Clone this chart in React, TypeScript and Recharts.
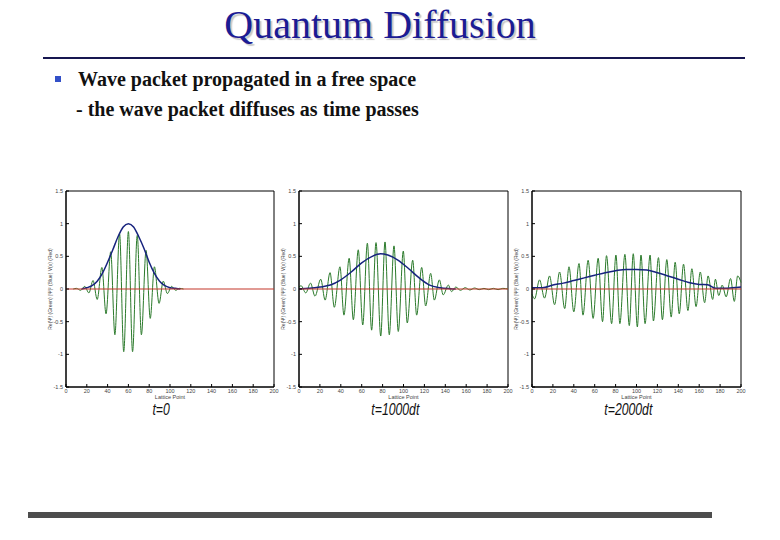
import React from 'react'
import { LineChart, Line, XAxis, YAxis, Label, ReferenceArea } from 'recharts'

const latticeTicks = [0, 20, 40, 60, 80, 100, 120, 140, 160, 180, 200]
const ampTicks = [-1.5, -1, -0.5, 0, 0.5, 1, 1.5]
const timeLabels = ['t=0', 't=1000dt', 't=2000dt']

// t = 0 : Re(psi) extremes (green) and |psi|^2 (blue)
const reX0 = [7, 10, 14, 18, 22, 26, 30, 34.5, 38.5, 43, 47, 51.5, 55.5, 60, 64, 68.5, 72.5, 77, 81, 85, 89.5, 93.5, 97.5, 101.5, 105.5, 109, 113]
const reY0 = [0, 0.01, -0.02, 0.04, -0.06, 0.13, -0.16, 0.33, -0.38, 0.57, -0.7, 0.85, -0.96, 0.88, -0.96, 0.82, -0.7, 0.59, -0.45, 0.34, -0.22, 0.12, -0.07, 0.04, -0.02, 0.01, 0]
const probX0 = [15, 20, 25, 30, 35, 40, 45, 50, 55, 60, 65, 70, 75, 80, 85, 90, 95, 100, 105, 110]
const probY0 = [0, 0.02, 0.05, 0.12, 0.24, 0.41, 0.6, 0.8, 0.95, 1.0, 0.95, 0.8, 0.62, 0.41, 0.24, 0.12, 0.05, 0.02, 0.01, 0]

// t = 1000 dt
const reX1 = [0, 2, 6.5, 11, 15.3, 20.8, 25, 29.7, 33.8, 39.2, 43, 48, 52, 56.7, 61, 65.4, 69.5, 73.7, 78.2, 82.3, 86.4, 90.9, 95, 99.8, 103.6, 108.8, 112.6, 117.4, 121.2, 126, 129.5, 134.3, 138, 142.9, 146, 150, 154.5, 159, 163.5, 168, 172.5, 177, 181.5, 186, 190.5, 195, 200]
const reY1 = [0.03, 0.05, -0.06, 0.09, -0.11, 0.15, -0.17, 0.25, -0.28, 0.34, -0.4, 0.47, -0.47, 0.6, -0.55, 0.7, -0.63, 0.71, -0.72, 0.72, -0.7, 0.66, -0.65, 0.58, -0.52, 0.44, -0.4, 0.33, -0.26, 0.24, -0.17, 0.14, -0.09, 0.06, -0.04, 0.03, -0.02, 0.02, -0.015, 0.015, -0.01, 0.01, -0.01, 0.01, -0.01, 0.01, 0]
const probX1 = [0, 10, 20, 30, 40, 50, 60, 70, 78, 85, 95, 105, 115, 125, 135, 145, 150]
const probY1 = [0, 0.01, 0.03, 0.06, 0.14, 0.26, 0.4, 0.5, 0.54, 0.52, 0.44, 0.31, 0.17, 0.06, 0.02, 0.005, 0]

// t = 2000 dt
const reX2 = [0, 2.5, 7.2, 12, 16.8, 21.6, 26.4, 31.3, 35.4, 40, 45, 48.8, 53.7, 58.5, 63.3, 67.5, 71.3, 76.2, 80.3, 84.1, 88.9, 93.1, 96.9, 100.8, 104.3, 108.2, 113, 116.2, 121, 124.8, 129, 133.2, 137, 140.9, 145, 149.2, 153, 157, 161, 165.2, 168.5, 172.9, 175.5, 178.7, 182, 185.8, 190, 193.6, 196.8, 200]
const reY2 = [-0.08, -0.15, 0.14, -0.14, 0.2, -0.24, 0.26, -0.3, 0.34, -0.35, 0.39, -0.4, 0.44, -0.45, 0.47, -0.5, 0.51, -0.53, 0.52, -0.53, 0.53, -0.56, 0.54, -0.58, 0.52, -0.53, 0.52, -0.49, 0.48, -0.47, 0.45, -0.43, 0.41, -0.38, 0.38, -0.33, 0.31, -0.27, 0.26, -0.21, 0.2, -0.16, 0.15, -0.1, 0.06, -0.12, 0.16, -0.19, 0.2, 0.1]
const probX2 = [0, 10, 20, 30, 40, 50, 60, 70, 80, 90, 100, 110, 120, 130, 140, 150, 160, 168, 176, 185, 192, 200]
const probY2 = [0.02, 0.02, 0.06, 0.09, 0.13, 0.17, 0.21, 0.25, 0.28, 0.3, 0.3, 0.29, 0.25, 0.2, 0.15, 0.1, 0.07, 0.065, 0.01, 0.01, 0.02, 0.03]

// V(x) = 0 everywhere (free space)
const potX = [0, 200]
const potY = [0, 0]

const zip = (xs: number[], ys: number[]) => xs.map((x, i) => ({ x, y: ys[i] }))

const GREEN = '#2b7a2b'
const BLUE = '#17237e'
const RED = '#c4372b'

const Y_W = 32
const PLOT_TOP = 191
const PLOT_H = 196

function Panel({ axisLeft, plotW, re, prob, time, labelX }: any) {
  return (
    <>
      <div style={{ position: 'absolute', left: axisLeft - Y_W, top: PLOT_TOP - 6 }}>
        <LineChart
          width={Y_W + plotW + 8}
          height={6 + PLOT_H + 20}
          margin={{ top: 6, right: 8, bottom: 0, left: 0 }}
        >
          <XAxis
            type="number"
            dataKey="x"
            domain={[0, 200]}
            ticks={latticeTicks}
            interval={0}
            height={20}
            tickSize={-3}
            tickMargin={5}
            stroke="#000"
            tick={{ fontSize: 5.5, fill: '#444', fontFamily: 'Arial, Liberation Sans' }}
          >
            <Label value="Lattice Point" position="center" fontSize={5.5} fill="#444" fontFamily="Arial, Liberation Sans" />
          </XAxis>
          <YAxis
            type="number"
            domain={[-1.5, 1.5]}
            ticks={ampTicks}
            interval={0}
            width={Y_W}
            tickSize={-3}
            tickMargin={6}
            stroke="#000"
            tick={{ fontSize: 5.5, fill: '#444', fontFamily: 'Arial, Liberation Sans' }}
          >
            <Label
              value="Re(Ψ) (Green)  |Ψ|² (Blue)  V(x) (Red)"
              angle={-90}
              position="center"
              fontSize={5}
              fill="#444"
              fontFamily="Arial, Liberation Sans"
            />
          </YAxis>
          <ReferenceArea x1={0} x2={200} y1={-1.5} y2={1.5} fill="none" stroke="#000" strokeWidth={1} />
          <Line data={re} dataKey="y" type="monotone" stroke={GREEN} strokeWidth={1} dot={false} isAnimationActive={false} />
          <Line data={prob} dataKey="y" type="monotone" stroke={BLUE} strokeWidth={1.5} dot={false} isAnimationActive={false} />
          <Line data={zip(potX, potY)} dataKey="y" type="linear" stroke={RED} strokeWidth={1.2} dot={false} isAnimationActive={false} />
        </LineChart>
      </div>
      <div
        style={{
          position: 'absolute',
          left: labelX - 60,
          width: 120,
          top: 400,
          textAlign: 'center',
          fontFamily: 'Liberation Sans, Arial',
          fontStyle: 'italic',
          fontSize: 17,
          color: '#111',
        }}
      >
        <span style={{ display: 'inline-block', transform: 'scaleX(0.72)' }}>{time}</span>
      </div>
    </>
  )
}

export default function App() {
  return (
    <div style={{ position: 'absolute', left: 0, top: 0, width: 780, height: 540, background: '#fff', overflow: 'hidden' }}>
      <div
        style={{
          position: 'absolute',
          left: 0,
          width: 760,
          top: 0,
          height: 50,
          lineHeight: '50px',
          textAlign: 'center',
          fontFamily: 'Liberation Serif, Times New Roman, serif',
          fontSize: 40,
          color: '#1c1c94',
          textShadow: '2px 2px 1px rgba(0,0,0,0.22)',
        }}
      >
        Quantum Diffusion
      </div>
      <div style={{ position: 'absolute', left: 43, top: 57, width: 702, height: 2, background: '#161650' }} />
      <div style={{ position: 'absolute', left: 55, top: 76, width: 6, height: 6, background: '#3350c8' }} />
      <div
        style={{
          position: 'absolute',
          left: 78,
          top: 64,
          fontFamily: 'Liberation Serif, Times New Roman, serif',
          fontWeight: 'bold',
          fontSize: 20,
          lineHeight: '30px',
          color: '#111',
          whiteSpace: 'nowrap',
        }}
      >
        <div>Wave packet propagated in a free space</div>
        <div style={{ marginLeft: -2 }}>- the wave packet diffuses as time passes</div>
      </div>

      <Panel axisLeft={66} plotW={208} re={zip(reX0, reY0)} prob={zip(probX0, probY0)} time={timeLabels[0]} labelX={161} />
      <Panel axisLeft={299} plotW={209} re={zip(reX1, reY1)} prob={zip(probX1, probY1)} time={timeLabels[1]} labelX={395} />
      <Panel axisLeft={532} plotW={209} re={zip(reX2, reY2)} prob={zip(probX2, probY2)} time={timeLabels[2]} labelX={628} />

      <div style={{ position: 'absolute', left: 28, top: 512, width: 684, height: 6, background: '#4d4d4d' }} />
    </div>
  )
}
